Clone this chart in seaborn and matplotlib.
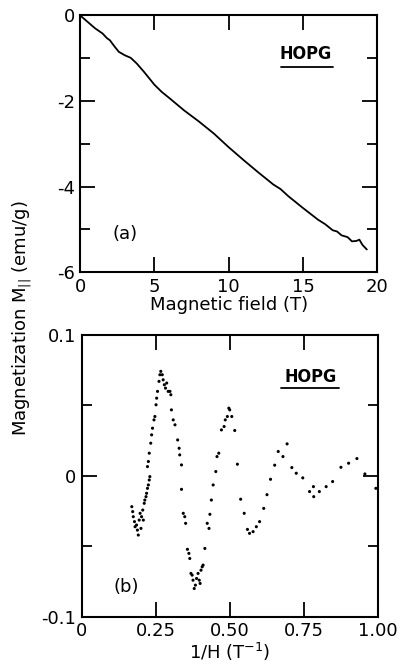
import numpy as np
import pandas as pd
import matplotlib
matplotlib.use("Agg")
import matplotlib.pyplot as plt
import seaborn as sns

# panel (a): magnetization vs field
field_T = [0, 0.5, 1.0, 1.5, 1.8, 2.0, 2.3, 2.6, 3.0, 3.4, 3.8, 4.3, 5.0, 5.5,
           6, 7, 8, 9, 10, 11, 12, 13, 13.5, 14, 15, 16, 16.5, 17, 17.3, 17.6,
           18, 18.3, 18.6, 18.8, 19.0, 19.3]
mag_emu = [0, -0.15, -0.30, -0.42, -0.53, -0.58, -0.72, -0.85, -0.93, -0.99,
           -1.12, -1.32, -1.62, -1.79, -1.93, -2.22, -2.48, -2.76, -3.08, -3.38,
           -3.67, -3.95, -4.06, -4.22, -4.50, -4.77, -4.88, -5.02, -5.05, -5.14,
           -5.18, -5.28, -5.27, -5.24, -5.36, -5.47]

# panel (b): oscillatory part vs 1/H
inv_H = [0.169, 0.172, 0.174, 0.178, 0.180, 0.185, 0.188, 0.191, 0.194, 0.197,
         0.200, 0.202, 0.206, 0.208, 0.211, 0.213, 0.217, 0.219, 0.222, 0.225,
         0.228, 0.230, 0.222, 0.225, 0.228, 0.233, 0.236, 0.239, 0.244, 0.247,
         0.251, 0.253, 0.256, 0.261, 0.264, 0.267, 0.272, 0.275, 0.279, 0.283,
         0.287, 0.292, 0.298, 0.301, 0.303, 0.309, 0.315, 0.324, 0.329, 0.331,
         0.337, 0.337, 0.343, 0.348, 0.351, 0.357, 0.362, 0.365, 0.369, 0.373,
         0.376, 0.380, 0.384, 0.388, 0.393, 0.397, 0.400, 0.403, 0.407, 0.410,
         0.416, 0.424, 0.430, 0.433, 0.438, 0.444, 0.453, 0.457, 0.463, 0.472,
         0.481, 0.485, 0.492, 0.497, 0.500, 0.507, 0.517, 0.526, 0.537, 0.549,
         0.560, 0.567, 0.579, 0.590, 0.601, 0.615, 0.626, 0.638, 0.652, 0.664,
         0.680, 0.694, 0.710, 0.725, 0.747, 0.770, 0.783, 0.784, 0.803, 0.826,
         0.848, 0.876, 0.902, 0.930, 0.957, 0.994]
osc_mag = [-0.0219, -0.0254, -0.0290, -0.0325, -0.0361, -0.0349, -0.0385, -0.0420,
           -0.0314, -0.0266, -0.0373, -0.0290, -0.0243, -0.0314, -0.0195, -0.0172,
           -0.0148, -0.0124, -0.0089, -0.0065, -0.0030, -0.0006, 0.0065, 0.0101,
           0.0160, 0.0231, 0.0290, 0.0337, 0.0396, 0.0420, 0.0503, 0.0550,
           0.0598, 0.0669, 0.0716, 0.0740, 0.0716, 0.0680, 0.0645, 0.0621,
           0.0657, 0.0598, 0.0598, 0.0574, 0.0467, 0.0396, 0.0361, 0.0254,
           0.0195, 0.0148, 0.0077, -0.0096, -0.0266, -0.0290, -0.0337, -0.0521,
           -0.0550, -0.0586, -0.0692, -0.0704, -0.0740, -0.0799, -0.0775, -0.0728,
           -0.0692, -0.0740, -0.0763, -0.0669, -0.0645, -0.0633, -0.0515, -0.0337,
           -0.0373, -0.0273, -0.0172, -0.0065, 0.0030, 0.0136, 0.0160, 0.0325,
           0.0349, 0.0396, 0.0420, 0.0479, 0.0467, 0.0420, 0.0321, 0.0082,
           -0.0166, -0.0266, -0.0380, -0.0408, -0.0396, -0.0361, -0.0325, -0.0231,
           -0.0134, -0.0025, 0.0075, 0.0172, 0.0136, 0.0226, 0.0058, 0.0018,
           -0.0015, -0.0112, -0.0077, -0.0148, -0.0112, -0.0077, -0.0041, 0.0060,
           0.0089, 0.0122, 0.0013, -0.0089]

sns.set_style("ticks")
plt.rcParams["font.family"] = ["DejaVu Sans"]
plt.rcParams["axes.linewidth"] = 1.5
plt.rcParams["axes.unicode_minus"] = False
plt.rcParams["text.color"] = "black"
plt.rcParams["axes.labelcolor"] = "black"
plt.rcParams["xtick.color"] = "black"
plt.rcParams["ytick.color"] = "black"

fig = plt.figure(figsize=(4.03, 6.72), dpi=100)
ax1 = fig.add_axes([0.199, 0.595, 0.737, 0.382])
ax2 = fig.add_axes([0.203, 0.082, 0.734, 0.42])

df_a = pd.DataFrame({"field": field_T, "mag": mag_emu})
sns.lineplot(data=df_a, x="field", y="mag", ax=ax1, color="black", lw=1.3)
ax1.set_xlim(0, 20)
ax1.set_ylim(-6, 0)
ax1.set_xticks([0, 5, 10, 15, 20])
ax1.set_yticks([0, -2, -4, -6])
ax1.set_yticks([-1, -3, -5], minor=True)
ax1.set_xlabel("Magnetic field (T)", fontsize=13, labelpad=0)
ax1.set_ylabel("")
ax1.text(0.76, 0.85, "HOPG", transform=ax1.transAxes, ha="center", va="center",
         fontsize=13, fontweight="bold", fontstretch="condensed")
ax1.plot([0.675, 0.85], [0.8, 0.8], transform=ax1.transAxes, color="black", lw=1.3)
ax1.text(0.15, 0.15, "(a)", transform=ax1.transAxes, ha="center", va="center", fontsize=13)

df_b = pd.DataFrame({"invH": inv_H, "osc": osc_mag})
sns.scatterplot(data=df_b, x="invH", y="osc", ax=ax2, color="black", s=5,
                edgecolor="none")
ax2.set_xlim(0, 1.0)
ax2.set_ylim(-0.1, 0.1)
ax2.set_xticks([0, 0.25, 0.5, 0.75, 1.0])
ax2.set_xticklabels(["0", "0.25", "0.50", "0.75", "1.00"])
ax2.set_yticks([0.1, 0, -0.1])
ax2.set_yticklabels(["0.1", "0", "-0.1"])
ax2.set_yticks([0.05, -0.05], minor=True)
ax2.set_xlabel("1/H (T$^{-1}$)", fontsize=13, labelpad=0)
ax2.set_ylabel("")
ax2.text(0.774, 0.85, "HOPG", transform=ax2.transAxes, ha="center", va="center",
         fontsize=13, fontweight="bold", fontstretch="condensed")
ax2.plot([0.675, 0.87], [0.81, 0.81], transform=ax2.transAxes, color="black", lw=1.3)
ax2.text(0.15, 0.106, "(b)", transform=ax2.transAxes, ha="center", va="center", fontsize=13)

for ax in (ax1, ax2):
    ax.tick_params(which="both", direction="in", top=True, right=True,
                   labelsize=13, width=1.3, color="black", labelcolor="black")
    ax.tick_params(which="major", length=11, pad=4)
    ax.tick_params(which="minor", length=7)
    for s in ax.spines.values():
        s.set_color("black")

fig.text(0.055, 0.527, "Magnetization M$_{||}$ (emu/g)", rotation=90,
         ha="center", va="center", fontsize=13)

fig.savefig("out.png", dpi=100)
